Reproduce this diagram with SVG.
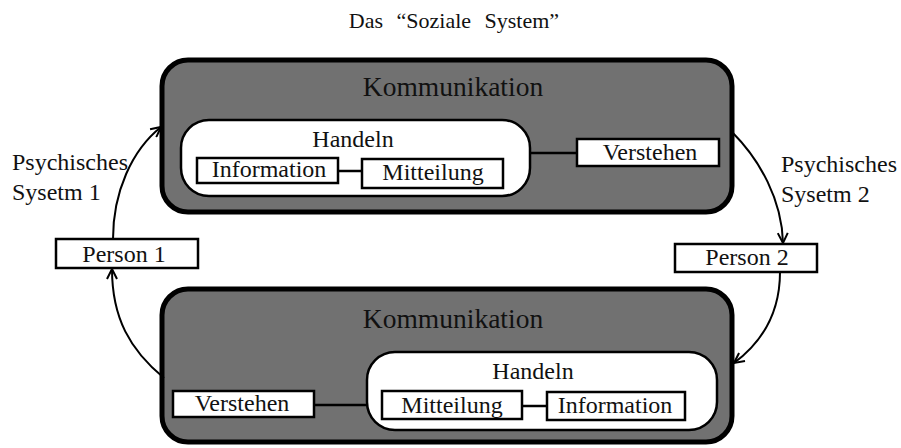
<svg xmlns="http://www.w3.org/2000/svg" width="901" height="448" viewBox="0 0 901 448" font-family="'Liberation Serif', 'DejaVu Serif', serif">
<defs>
<style>
text{font-family:'Liberation Serif','Times New Roman','DejaVu Serif',serif;fill:#111;}
.big{font-size:27.5px;text-anchor:middle;}
.mid{font-size:24px;text-anchor:middle;}
.lbl{font-size:24px;}
.title{font-size:22px;text-anchor:middle;word-spacing:8px;}
.outer{fill:#717171;stroke:#000;stroke-width:5;}
.inner{fill:#fff;stroke:#000;stroke-width:2.5;}
.box{fill:#fff;stroke:#000;stroke-width:2.5;}
.ln{stroke:#000;stroke-width:2.5;fill:none;}
.arc{stroke:#000;stroke-width:2;fill:none;marker-end:url(#ah);}
</style>
<marker id="ah" viewBox="0 0 12 12" refX="11" refY="6" markerWidth="12" markerHeight="12" markerUnits="userSpaceOnUse" orient="auto">
<path d="M1,1 L11,6 L1,11" fill="none" stroke="#000" stroke-width="2"/>
</marker>
</defs>
<rect width="901" height="448" fill="#fff"/>
<text class="title" x="454" y="28">Das “Soziale System”</text>

<g id="komm-top">
<rect class="outer" x="162" y="60" width="570" height="152" rx="26"/>
<text class="big" x="453" y="96">Kommunikation</text>
</g>
<g id="handeln-top">
<rect class="inner" x="181" y="120" width="349" height="76" rx="28"/>
<text class="mid" x="353" y="147">Handeln</text>
</g>
<g id="info-top">
<rect class="box" x="197" y="158" width="141" height="25"/>
<text class="mid" x="269" y="177">Information</text>
</g>
<g id="mitt-top">
<rect class="box" x="362" y="159" width="141" height="29"/>
<text class="mid" x="433" y="180">Mitteilung</text>
</g>
<g id="verst-top">
<rect class="box" x="577" y="139" width="142" height="27"/>
<text class="mid" x="650" y="160">Verstehen</text>
</g>

<g id="komm-bottom">
<rect class="outer" x="162" y="289" width="570" height="153" rx="26"/>
<text class="big" x="453" y="328">Kommunikation</text>
</g>
<g id="handeln-bottom">
<rect class="inner" x="367" y="352" width="350" height="78" rx="28"/>
<text class="mid" x="533" y="379">Handeln</text>
</g>
<g id="mitt-bottom">
<rect class="box" x="382" y="391" width="140" height="28"/>
<text class="mid" x="452" y="413">Mitteilung</text>
</g>
<g id="info-bottom">
<rect class="box" x="547" y="392" width="138" height="28"/>
<text class="mid" x="615" y="413">Information</text>
</g>
<g id="verst-bottom">
<rect class="box" x="173" y="391" width="141" height="26"/>
<text class="mid" x="242" y="411">Verstehen</text>
</g>

<g id="person1">
<rect class="box" x="56" y="239" width="142" height="29"/>
<text class="mid" x="124" y="262">Person 1</text>
</g>
<g id="person2">
<rect class="box" x="675" y="244" width="142" height="28"/>
<text class="mid" x="747" y="265">Person 2</text>
</g>

<g id="psy1">
<text class="lbl" x="12" y="170">Psychisches</text>
<text class="lbl" x="12" y="200">Sysetm 1</text>
</g>
<g id="psy2">
<text class="lbl" x="781" y="172">Psychisches</text>
<text class="lbl" x="781" y="202">Sysetm 2</text>
</g>

<g id="connectors">
<line class="ln" x1="338" y1="171" x2="362" y2="171"/>
<line class="ln" x1="530" y1="153" x2="577" y2="153"/>
<line class="ln" x1="522" y1="406" x2="547" y2="406"/>
<line class="ln" x1="314" y1="405" x2="367" y2="405"/>
<path class="arc" d="M113,239 C113,192 132,150 161,127"/>
<path class="arc" d="M164,378 C130,350 112,318 112,269"/>
<path class="arc" d="M732,132 C760,160 782,200 783,243"/>
<path class="arc" d="M780,272 C780,310 765,340 734,363"/>
</g>
</svg>
